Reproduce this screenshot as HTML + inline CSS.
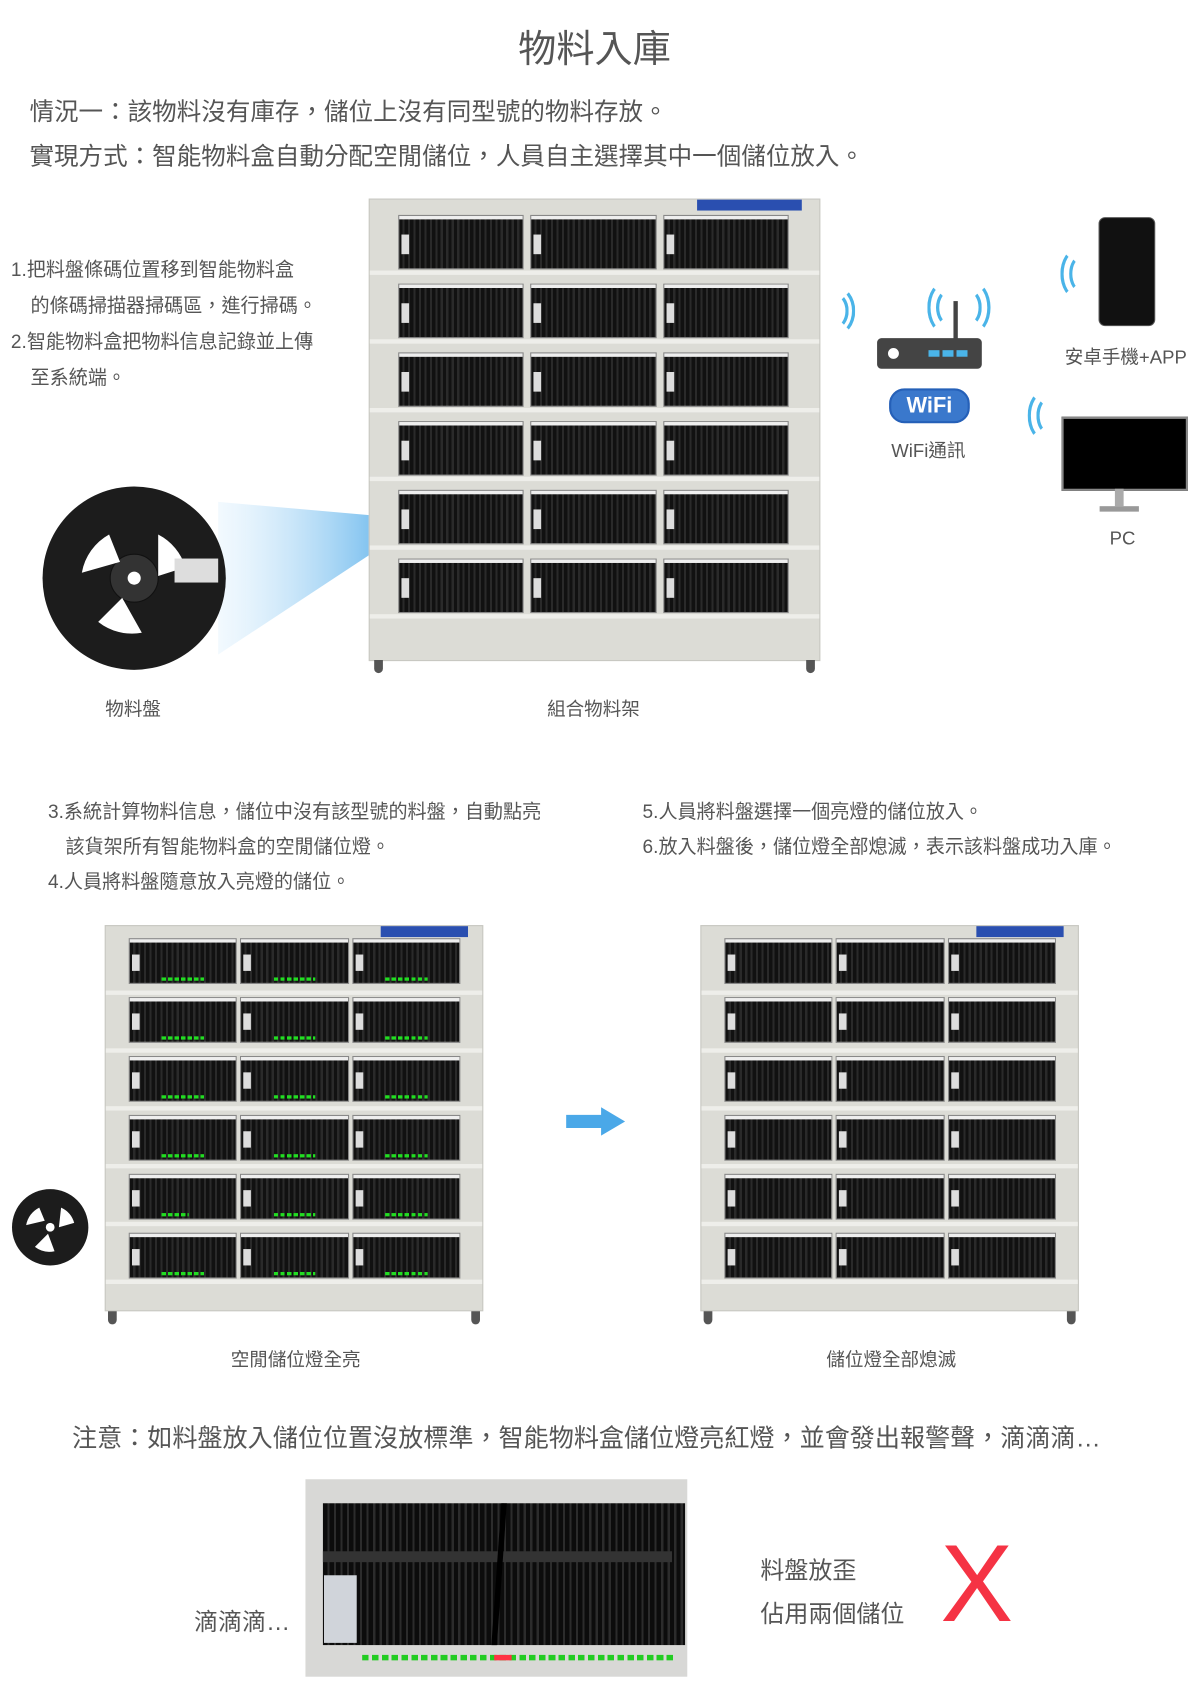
<!DOCTYPE html>
<html><head><meta charset="utf-8">
<style>
html,body{margin:0;padding:0;background:#fff;width:1200px;height:1695px;overflow:hidden}
#w{position:absolute;left:0;top:0;width:1100px;height:1554px;transform:scale(1.0909);transform-origin:0 0;font-family:"Liberation Sans","Noto Sans CJK TC",sans-serif;color:#555}
.t{position:absolute;white-space:nowrap}
.c{transform:translateX(-50%)}
.rack{position:absolute;background:#dcdcd6;border:1px solid #c8c8c2;box-sizing:border-box}
.rack .g{position:absolute;display:grid;grid-template-columns:repeat(3,1fr);grid-template-rows:repeat(6,1fr)}
.b{background:repeating-linear-gradient(90deg,#111 0 3px,#2a2a2a 3px 5px);border-top:3px solid #eee;position:relative;box-shadow:0 0 0 1px #888}
.b::before{content:"";position:absolute;left:2px;top:30%;width:7px;height:40%;background:#ddd}
.sh{position:absolute;left:0;right:0;height:4px;background:#eeeeea}
.led{position:absolute;left:30%;bottom:2px;height:3px;background:repeating-linear-gradient(90deg,#2d2 0 4px,transparent 4px 6px)}
.foot{position:absolute;width:8px;height:12px;background:#555;border-radius:0 0 4px 4px}
.panel{position:absolute;top:0;height:10px;background:#2a4fb0}
.arc{position:absolute;border:3px solid;border-radius:50%;border-color:transparent #4ab4e8 transparent transparent}
.arcl{position:absolute;border:3px solid;border-radius:50%;border-color:transparent transparent transparent #4ab4e8}
.s{font-size:17.5px}
</style></head><body><div id="w">
<div class="t c" style="left:545px;top:17px;font-size:35px;color:#555">物料入庫</div>
<div class="t" style="left:27px;top:85px;font-size:22.5px">情況一：該物料沒有庫存，儲位上沒有同型號的物料存放。</div>
<div class="t" style="left:27px;top:126px;font-size:22.5px">實現方式：智能物料盒自動分配空閒儲位，人員自主選擇其中一個儲位放入。</div>

<div class="t s" style="left:10px;top:234px">1.把料盤條碼位置移到智能物料盒</div>
<div class="t s" style="left:28px;top:267px">的條碼掃描器掃碼區，進行掃碼。</div>
<div class="t s" style="left:10px;top:300px">2.智能物料盒把物料信息記錄並上傳</div>
<div class="t s" style="left:28px;top:333px">至系統端。</div>

<svg style="position:absolute;left:0;top:420px" width="380" height="220">
<defs><linearGradient id="bm" x1="1" y1="0" x2="0" y2="0"><stop offset="0" stop-color="#4aa8e8" stop-opacity=".9"/><stop offset="1" stop-color="#bfe2fa" stop-opacity=".2"/></linearGradient></defs>
<polygon points="370,55 370,68 200,180 200,40" fill="url(#bm)"/>
<circle cx="123" cy="110" r="84" fill="#1c1c1c"/>
<circle cx="123" cy="110" r="22" fill="#333" stroke="#111"/>
<circle cx="123" cy="110" r="6" fill="#fff"/>
<path d="M75 105 A50 50 0 0 1 100 70 L110 95 Z" fill="#fff"/>
<path d="M145 70 A50 50 0 0 1 170 100 L145 108 Z" fill="#fff"/>
<path d="M130 160 A50 50 0 0 1 90 150 L112 128 Z" fill="#fff"/>
<rect x="160" y="92" width="40" height="22" fill="#ddd"/>
</svg>
<div class="t c" style="left:122px;top:636px;font-size:17px">物料盤</div>

<div class="rack" style="left:338px;top:182px;width:414px;height:424px">
 <div class="panel" style="left:300px;width:96px"></div>
 <div class="sh" style="top:65px"></div><div class="sh" style="top:128px"></div><div class="sh" style="top:191px"></div><div class="sh" style="top:254px"></div><div class="sh" style="top:317px"></div><div class="sh" style="top:380px"></div>
 <div class="g" style="left:27px;top:15px;width:356px;height:363px;column-gap:8px;row-gap:15px">
 <div class="b"></div><div class="b"></div><div class="b"></div><div class="b"></div><div class="b"></div><div class="b"></div><div class="b"></div><div class="b"></div><div class="b"></div><div class="b"></div><div class="b"></div><div class="b"></div><div class="b"></div><div class="b"></div><div class="b"></div><div class="b"></div><div class="b"></div><div class="b"></div>
 </div>
 <div class="foot" style="left:4px;top:422px"></div><div class="foot" style="right:4px;top:422px"></div>
</div>
<div class="t c" style="left:544px;top:636px;font-size:17px">組合物料架</div>

<div class="arc" style="left:748px;top:262px;width:30px;height:40px"></div>
<div class="arc" style="left:752px;top:268px;width:20px;height:28px"></div>
<div class="arcl" style="left:850px;top:258px;width:26px;height:42px"></div>
<div class="arcl" style="left:858px;top:265px;width:18px;height:28px"></div>
<div class="arc" style="left:876px;top:258px;width:26px;height:42px"></div>
<div class="arc" style="left:876px;top:265px;width:18px;height:28px"></div>
<div style="position:absolute;left:874px;top:276px;width:4px;height:36px;background:#444"></div>
<div style="position:absolute;left:804px;top:310px;width:96px;height:28px;background:#444;border-radius:4px"></div>
<div style="position:absolute;left:814px;top:319px;width:10px;height:10px;background:#fff;border-radius:50%"></div>
<div style="position:absolute;left:851px;top:321px;width:36px;height:6px;background:repeating-linear-gradient(90deg,#4ab4e8 0 10px,transparent 10px 13px)"></div>
<div class="t" style="left:815px;top:356px;width:70px;height:28px;border:2px solid #2560b8;border-radius:14px;background:#3a78cc;color:#fff;font-weight:bold;font-size:20px;text-align:center;line-height:28px">WiFi</div>
<div class="t c" style="left:851px;top:399px;font-size:17px">WiFi通訊</div>

<div class="arcl" style="left:972px;top:228px;width:24px;height:40px"></div>
<div class="arcl" style="left:980px;top:234px;width:16px;height:28px"></div>
<div style="position:absolute;left:1007px;top:199px;width:50px;height:98px;background:#111;border-radius:6px;border:1px solid #555"></div>
<div class="t c" style="left:1032px;top:313px;font-size:17px">安卓手機+APP</div>
<div class="arcl" style="left:942px;top:358px;width:24px;height:40px"></div>
<div class="arcl" style="left:950px;top:364px;width:16px;height:28px"></div>
<div style="position:absolute;left:973px;top:382px;width:112px;height:64px;background:#000;border:2px solid #888"></div>
<div style="position:absolute;left:1022px;top:448px;width:8px;height:16px;background:#aaa"></div>
<div style="position:absolute;left:1008px;top:464px;width:36px;height:5px;background:#999"></div>
<div class="t c" style="left:1029px;top:484px;font-size:17px">PC</div>

<div class="t s" style="left:44px;top:731px">3.系統計算物料信息，儲位中沒有該型號的料盤，自動點亮</div>
<div class="t s" style="left:60px;top:763px">該貨架所有智能物料盒的空閒儲位燈。</div>
<div class="t s" style="left:44px;top:795px">4.人員將料盤隨意放入亮燈的儲位。</div>
<div class="t s" style="left:589px;top:731px">5.人員將料盤選擇一個亮燈的儲位放入。</div>
<div class="t s" style="left:589px;top:763px">6.放入料盤後，儲位燈全部熄滅，表示該料盤成功入庫。</div>

<div class="rack" style="left:96px;top:848px;width:347px;height:354px">
 <div class="panel" style="left:252px;width:80px"></div>
 <div class="sh" style="top:59px"></div><div class="sh" style="top:112px"></div><div class="sh" style="top:165px"></div><div class="sh" style="top:218px"></div><div class="sh" style="top:271px"></div><div class="sh" style="top:324px"></div>
 <div class="g" style="left:22px;top:12px;width:302px;height:310px;column-gap:5px;row-gap:14px">
 <div class="b"><div class="led" style="width:40%"></div></div><div class="b"><div class="led" style="width:40%"></div></div><div class="b"><div class="led" style="width:40%"></div></div>
 <div class="b"><div class="led" style="width:40%"></div></div><div class="b"><div class="led" style="width:40%"></div></div><div class="b"><div class="led" style="width:40%"></div></div>
 <div class="b"><div class="led" style="width:40%"></div></div><div class="b"><div class="led" style="width:40%"></div></div><div class="b"><div class="led" style="width:40%"></div></div>
 <div class="b"><div class="led" style="width:40%"></div></div><div class="b"><div class="led" style="width:40%"></div></div><div class="b"><div class="led" style="width:40%"></div></div>
 <div class="b"><div class="led" style="width:25%"></div></div><div class="b"><div class="led" style="width:40%"></div></div><div class="b"><div class="led" style="width:40%"></div></div>
 <div class="b"><div class="led" style="width:40%"></div></div><div class="b"><div class="led" style="width:40%"></div></div><div class="b"><div class="led" style="width:40%"></div></div>
 </div>
 <div class="foot" style="left:2px;top:353px"></div><div class="foot" style="right:2px;top:353px"></div>
</div>
<div class="rack" style="left:642px;top:848px;width:347px;height:354px">
 <div class="panel" style="left:252px;width:80px"></div>
 <div class="sh" style="top:59px"></div><div class="sh" style="top:112px"></div><div class="sh" style="top:165px"></div><div class="sh" style="top:218px"></div><div class="sh" style="top:271px"></div><div class="sh" style="top:324px"></div>
 <div class="g" style="left:22px;top:12px;width:302px;height:310px;column-gap:5px;row-gap:14px">
 <div class="b"></div><div class="b"></div><div class="b"></div><div class="b"></div><div class="b"></div><div class="b"></div><div class="b"></div><div class="b"></div><div class="b"></div><div class="b"></div><div class="b"></div><div class="b"></div><div class="b"></div><div class="b"></div><div class="b"></div><div class="b"></div><div class="b"></div><div class="b"></div>
 </div>
 <div class="foot" style="left:2px;top:353px"></div><div class="foot" style="right:2px;top:353px"></div>
</div>
<svg style="position:absolute;left:515px;top:1014px" width="62" height="28"><polygon points="4,8 36,8 36,1 58,14 36,27 36,20 4,20" fill="#4aa8e8"/></svg>
<svg style="position:absolute;left:10px;top:1089px" width="74" height="74"><circle cx="36" cy="36" r="35" fill="#1c1c1c"/><circle cx="36" cy="36" r="4" fill="#fff"/><path d="M14 34 A22 22 0 0 1 26 18 L31 30Z" fill="#fff"/><path d="M46 18 A22 22 0 0 1 58 32 L44 36Z" fill="#fff"/><path d="M40 58 A22 22 0 0 1 22 54 L34 42Z" fill="#fff"/></svg>
<div class="t c" style="left:271px;top:1232px;font-size:17px">空閒儲位燈全亮</div>
<div class="t c" style="left:817px;top:1232px;font-size:17px">儲位燈全部熄滅</div>

<div class="t" style="left:66px;top:1299px;font-size:23px">注意：如料盤放入儲位位置沒放標準，智能物料盒儲位燈亮紅燈，並會發出報警聲，滴滴滴…</div>

<div style="position:absolute;left:280px;top:1356px;width:350px;height:181px;background:#d8d8d6">
 <div style="position:absolute;left:16px;top:22px;width:332px;height:130px;background:repeating-linear-gradient(90deg,#0c0c0c 0 4px,#2c2c2c 4px 6px)"></div>
 <div style="position:absolute;left:16px;top:66px;width:320px;height:10px;background:#333"></div>
 <div style="position:absolute;left:175px;top:22px;width:5px;height:130px;background:#000;transform:skewX(-4deg)"></div>
 <div style="position:absolute;left:17px;top:88px;width:30px;height:62px;background:#d0d4da"></div>
 <div style="position:absolute;left:52px;top:161px;width:285px;height:5px;background:repeating-linear-gradient(90deg,#2c2 0 6px,transparent 6px 9px)"></div>
 <div style="position:absolute;left:173px;top:161px;width:16px;height:5px;background:#f34"></div>
</div>
<div class="t" style="left:178px;top:1469px;font-size:22px">滴滴滴…</div>
<div class="t" style="left:697px;top:1422px;font-size:22px">料盤放歪</div>
<div class="t" style="left:697px;top:1462px;font-size:22px">佔用兩個儲位</div>
<div class="t" style="left:862px;top:1402px;font-size:100px;color:#f53344;font-family:'Liberation Sans Narrow','Liberation Sans',sans-serif;line-height:1">X</div>
</div></body></html>
